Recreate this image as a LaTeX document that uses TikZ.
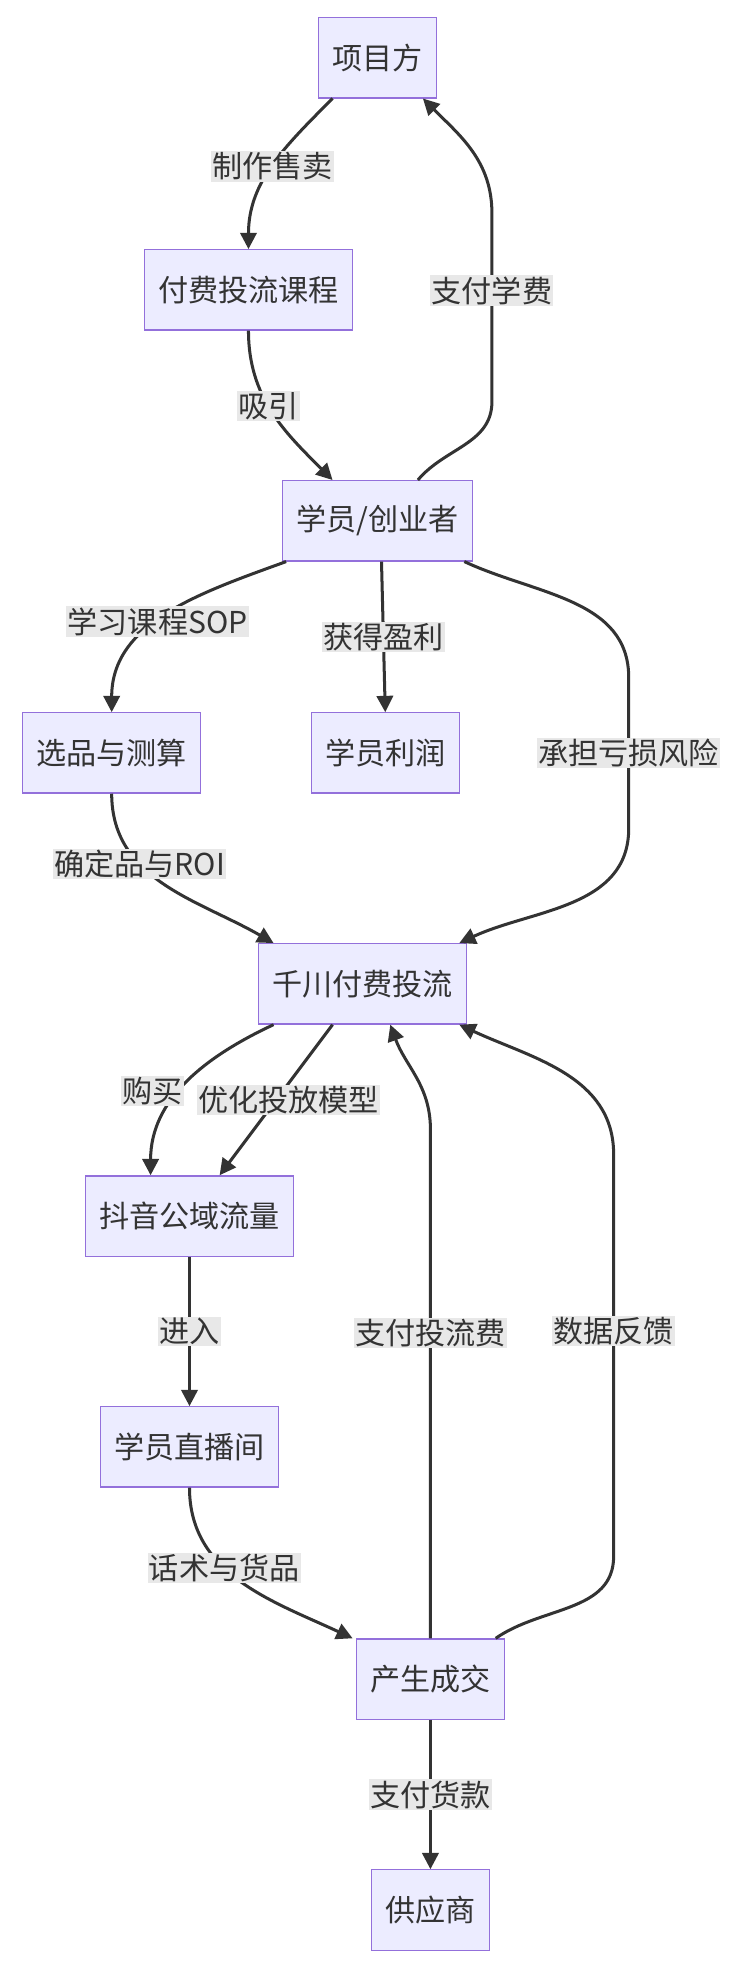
\documentclass[tikz,border=0pt]{standalone}
\usepackage{fontspec}
\setmainfont{Noto Sans CJK SC}
\usetikzlibrary{arrows.meta}
\definecolor{boxfill}{HTML}{ECECFF}
\definecolor{boxline}{HTML}{9370DB}
\definecolor{edgeline}{HTML}{333333}
\definecolor{lblbg}{HTML}{E8E8E8}
\begin{document}
\begin{tikzpicture}[x=1pt,y=1pt,
    box/.style={draw=boxline,fill=boxfill,line width=1pt,minimum height=64pt,inner xsep=11pt,font=\fontsize{24}{28}\selectfont,text=edgeline},
    flow/.style={draw=edgeline,line width=2.4pt,-{Triangle[length=13pt,width=13pt]}},
    lbl/.style={fill=lblbg,inner sep=1pt,font=\fontsize{24}{28}\selectfont,text=edgeline}]
    \useasboundingbox (0,0) rectangle (593,-1573);
    % nodes
    \node[box] (xm) at (301,-46) {项目方};
    \node[box] (kc) at (198,-231) {付费投流课程};
    \node[box] (xy) at (301,-415) {学员/创业者};
    \node[box] (xp) at (89,-600) {选品与测算};
    \node[box] (lr) at (307,-600) {学员利润};
    \node[box] (qc) at (289,-784) {千川付费投流};
    \node[box] (dy) at (151,-969) {抖音公域流量};
    \node[box] (zb) at (151,-1153) {学员直播间};
    \node[box] (cj) at (343,-1338) {产生成交};
    \node[box] (gy) at (343,-1522) {供应商};
    % bends
    \coordinate (fa) at (392,-320);
    \coordinate (fb) at (392,-170);
    \coordinate (ra) at (501,-540);
    \coordinate (rb) at (501,-660);
    \coordinate (ta) at (343,-900);
    \coordinate (da) at (489,-1240);
    \coordinate (db) at (489,-920);
    % connectors
    \draw[flow] ([xshift=-36]xm.south) to[out=-135,in=90] node[lbl,pos=0.5] {制作售卖} (kc.north);
    \draw[flow] (kc.south) to[out=-90,in=135] node[lbl,pos=0.45] {吸引} ([xshift=-36]xy.north);
    \draw[flow] ([xshift=32]xy.north) to[out=50,in=-90] (fa) -- node[lbl,pos=0.59] {支付学费} (fb) to[out=90,in=-45] ([xshift=36]xm.south);
    \draw[flow] ([xshift=-73]xy.south) to[out=-160,in=90] node[lbl,pos=0.55] {学习课程SOP} (xp.north);
    \draw[flow] ([xshift=3]xy.south) -- node[lbl] {获得盈利} (lr.north);
    \draw[flow] ([xshift=69]xy.south) to[out=-25,in=90] (ra) -- node[lbl] {承担亏损风险} (rb) to[out=-90,in=25] ([xshift=77]qc.north);
    \draw[flow] (xp.south) to[out=-90,in=150] node[lbl,pos=0.35] {确定品与ROI} ([xshift=-71]qc.north);
    \draw[flow] ([xshift=-71]qc.south) to[out=-155,in=90] node[lbl,pos=0.55,xshift=-22] {购买} ([xshift=-31]dy.north);
    \draw[flow] ([xshift=-24]qc.south) -- node[lbl,xshift=10] {优化投放模型} ([xshift=24]dy.north);
    \draw[flow] (dy.south) -- node[lbl] {进入} (zb.north);
    \draw[flow] (zb.south) to[out=-90,in=155] node[lbl,pos=0.4] {话术与货品} ([xshift=-62]cj.north);
    \draw[flow] (cj.north) -- node[lbl,pos=0.6] {支付投流费} (ta) to[out=90,in=-70] ([xshift=22]qc.south);
    \draw[flow] ([xshift=52]cj.north) to[out=35,in=-90] (da) -- node[lbl,pos=0.56] {数据反馈} (db) to[out=90,in=-25] ([xshift=77]qc.south);
    \draw[flow] (cj.south) -- node[lbl] {支付货款} (gy.north);
\end{tikzpicture}
\end{document}
